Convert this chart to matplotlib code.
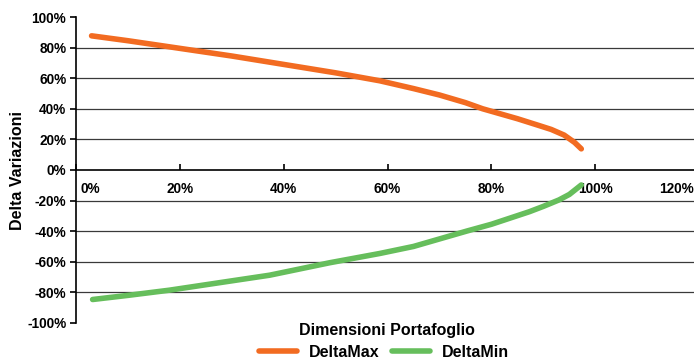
import matplotlib
matplotlib.use('Agg')
import matplotlib.pyplot as plt
import matplotlib.transforms as mtransforms
from matplotlib.ticker import PercentFormatter

# values (fractions)
max_x = [0.03, 0.10, 0.20, 0.30, 0.40, 0.50, 0.585, 0.65, 0.70, 0.75, 0.783, 0.85, 0.892, 0.915, 0.94, 0.96, 0.973]
max_y = [0.877, 0.845, 0.795, 0.745, 0.69, 0.635, 0.583, 0.532, 0.49, 0.44, 0.40, 0.335, 0.29, 0.265, 0.228, 0.18, 0.138]
min_x = [0.032, 0.10, 0.18, 0.30, 0.373, 0.488, 0.585, 0.65, 0.752, 0.80, 0.873, 0.90, 0.93, 0.95, 0.973]
min_y = [-0.847, -0.82, -0.786, -0.725, -0.688, -0.607, -0.546, -0.50, -0.40, -0.355, -0.273, -0.238, -0.196, -0.16, -0.098]

x_ticks = [0, 0.2, 0.4, 0.6, 0.8, 1.0, 1.19]
x_labels = ['0%', '20%', '40%', '60%', '80%', '100%', '120%']
y_ticks = [-1, -0.8, -0.6, -0.4, -0.2, 0, 0.2, 0.4, 0.6, 0.8, 1.0]
grid_levels = [-0.8, -0.6, -0.4, -0.2, 0.2, 0.4, 0.6, 0.8]

plt.rcParams['font.family'] = ['Liberation Sans', 'DejaVu Sans']
plt.rcParams['font.weight'] = 'bold'
plt.rcParams['axes.unicode_minus'] = False

fig = plt.figure(figsize=(6.94, 3.62), dpi=100)
ax = fig.add_axes([0.1095, 0.108, 0.8905, 0.845])

for g in grid_levels:
    ax.axhline(g, color='#3a3a3a', lw=0.9, zorder=1)

ax.plot(max_x, max_y, color='#F26B21', lw=4, solid_capstyle='round', label='DeltaMax', zorder=3)
ax.plot(min_x, min_y, color='#66BE5C', lw=4, solid_capstyle='round', label='DeltaMin', zorder=3)

ax.set_xlim(0, 1.19)
ax.set_ylim(-1, 1)

for s in ['top', 'right']:
    ax.spines[s].set_visible(False)
ax.spines['bottom'].set_position(('data', 0))
ax.spines['left'].set_linewidth(1.2)
ax.spines['bottom'].set_linewidth(1.2)

ax.set_yticks(y_ticks)
ax.yaxis.set_major_formatter(PercentFormatter(1.0, decimals=0))
ax.tick_params(axis='y', direction='out', length=4, width=1.2, labelsize=9.8, pad=3)

ax.set_xticks(x_ticks, x_labels)
ax.tick_params(axis='x', direction='in', length=4, width=1.2, labelsize=9.8, pad=9)
xt = ax.xaxis.get_major_ticks()
xt[-1].tick1line.set_visible(False)
xl = ax.get_xticklabels()
xl[0].set_horizontalalignment('left')
xl[0].set_transform(xl[0].get_transform() + mtransforms.ScaledTranslation(0.05, 0, fig.dpi_scale_trans))
xl[-1].set_horizontalalignment('right')
for lab in ax.get_xticklabels() + ax.get_yticklabels():
    lab.set_fontweight('bold')

fig.text(0.025, 0.53, 'Delta Variazioni', rotation=90, ha='center', va='center',
         fontsize=11.5, fontweight='bold')
fig.text(0.557, 0.088, 'Dimensioni Portafoglio', ha='center', va='center',
         fontsize=11.5, fontweight='bold')

fig.legend(loc='center', bbox_to_anchor=(0.553, 0.027), ncol=2, frameon=False,
           prop={'size': 11.5, 'weight': 'bold'}, handlelength=2.4, columnspacing=0.8,
           handletextpad=0.7, borderpad=0)

fig.savefig('out.png', dpi=100)
